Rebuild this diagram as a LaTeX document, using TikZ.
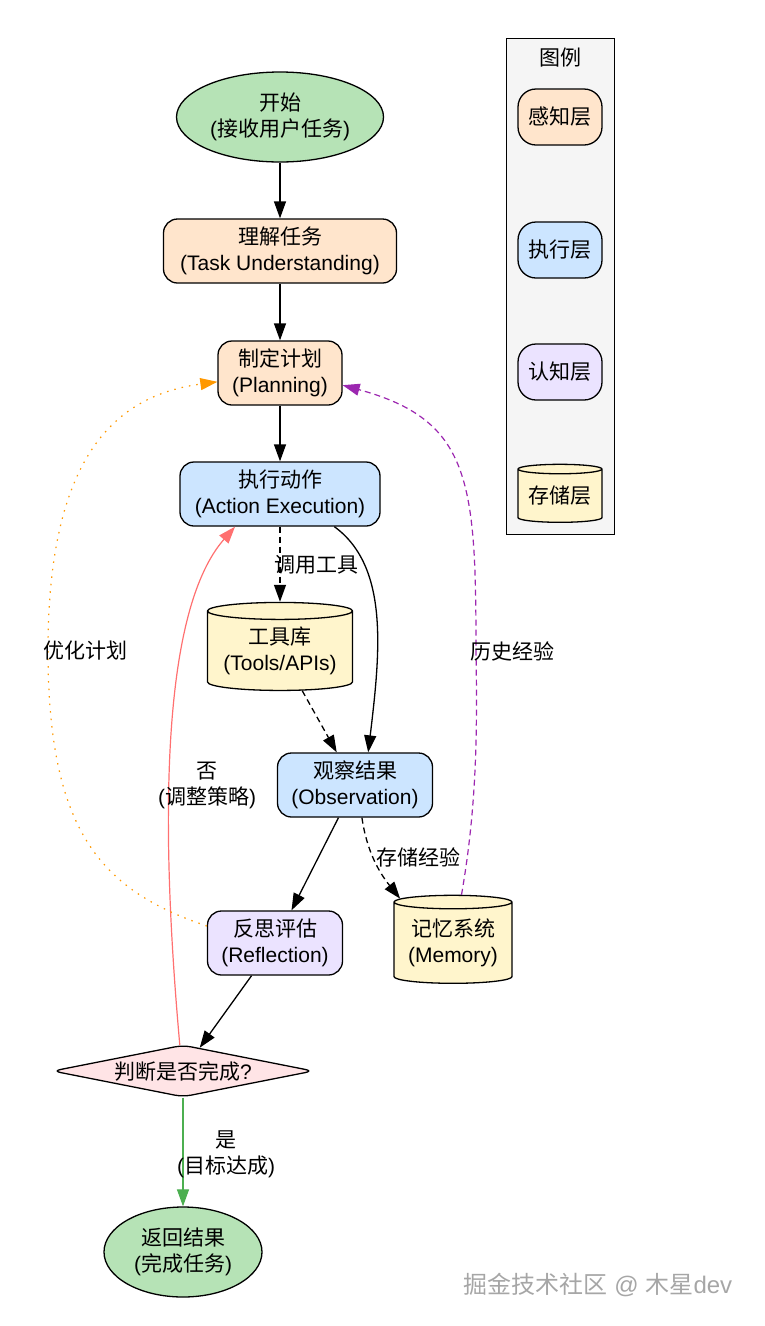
\documentclass[tikz,border=0pt]{standalone}
\usepackage{fontspec}
\setmainfont{Liberation Sans}
\newfontfamily\cjk{Noto Sans CJK SC}
\usetikzlibrary{arrows.meta,shapes.geometric}

\definecolor{startgreen}{HTML}{B6E3B6}
\definecolor{perception}{HTML}{FFE5CC}
\definecolor{execution}{HTML}{CCE5FF}
\definecolor{cognition}{HTML}{EBE3FF}
\definecolor{storage}{HTML}{FFF5CC}
\definecolor{decision}{HTML}{FFE4E6}
\definecolor{legendbg}{HTML}{F5F5F5}
\definecolor{retryred}{HTML}{FF7070}
\definecolor{refineorange}{HTML}{FF9800}
\definecolor{historypurple}{HTML}{9C27B0}
\definecolor{donegreen}{HTML}{4CAF50}

\begin{document}
\begin{tikzpicture}[x=1pt, y=-1pt,
		every node/.style={font=\fontsize{21}{26}\selectfont, align=center, inner sep=0pt},
		terminal/.style={ellipse, draw, line width=1.3pt, fill=startgreen},
		layer/.style={rectangle, rounded corners=14pt, draw, line width=1.3pt},
		store/.style={cylinder, shape border rotate=90, aspect=0.15, draw, line width=1.3pt, fill=storage},
		flow/.style={line width=1.3pt, -{Triangle[length=17pt,width=12pt]}},
		dashline/.style={dash pattern=on 6pt off 4pt}]

				\useasboundingbox (0,0) rectangle (764,1326);

				\node[draw, line width=1pt, fill=legendbg, minimum width=108, minimum height=496] (legend) at (560.5,286) {};
				\node (legendtitle) at (560,58) {\cjk 图例};
				\node[layer, fill=perception, rounded corners=18pt, minimum width=84, minimum height=56] (keyperception) at (560,117) {\cjk 感知层};
				\node[layer, fill=execution, rounded corners=18pt, minimum width=84, minimum height=56] (keyexecution) at (560,250) {\cjk 执行层};
				\node[layer, fill=cognition, rounded corners=18pt, minimum width=84, minimum height=56] (keycognition) at (560,372) {\cjk 认知层};
				\node[store, minimum width=84, minimum height=58] (keystorage) at (560,496) {\cjk 存储层};

				\node[terminal, minimum width=207, minimum height=90] (start) at (280,117) {{\cjk 开始}\\({\cjk 接收用户任务})};
				\node[layer, fill=perception, minimum width=233, minimum height=64] (understand) at (280,251) {{\cjk 理解任务}\\(Task Understanding)};
				\node[layer, fill=perception, minimum width=124, minimum height=64] (plan) at (280,373) {{\cjk 制定计划}\\(Planning)};
				\node[layer, fill=execution, minimum width=200, minimum height=64] (act) at (280,494) {{\cjk 执行动作}\\(Action Execution)};
				\node[store, minimum width=145, minimum height=88] (tools) at (280,651) {{\cjk 工具库}\\(Tools/APIs)};
				\node[layer, fill=execution, minimum width=155, minimum height=64] (observe) at (355,785) {{\cjk 观察结果}\\(Observation)};
				\node[layer, fill=cognition, minimum width=135, minimum height=64] (reflect) at (275,943) {{\cjk 反思评估}\\(Reflection)};
				\node[store, minimum width=118, minimum height=88] (memory) at (453,943) {{\cjk 记忆系统}\\(Memory)};
				\node[diamond, aspect=5, draw, line width=1.3pt, fill=decision, rounded corners=8pt, minimum width=261, minimum height=52] (check) at (183,1071) {{\cjk 判断是否完成}?};
				\node[terminal, minimum width=158, minimum height=90] (finish) at (183,1252) {{\cjk 返回结果}\\({\cjk 完成任务})};

				\draw[flow] (start) -- (understand);
				\draw[flow] (understand) -- (plan);
				\draw[flow] (plan) -- (act);
				\draw[flow, dashline] (act) -- (tools);
				\node (calltools) at (316,565) {\cjk 调用工具};
				\draw[flow] (act.-31) .. controls +(55,40) and +(12,-100) .. (observe.68);
				\draw[flow, dashline] (tools) -- (observe);
				\draw[flow] (observe) -- (reflect);
				\draw[flow, dashline] (observe.-78) .. controls +(5,35) and +(-20,-25) .. (memory.140);
				\node (storeexp) at (418,857) {\cjk 存储经验};
				\draw[flow] (reflect) -- (check);

				\draw[flow, retryred, line width=1.2pt] (check.97) .. controls +(-22,-245) and +(-70,80) .. (act.-144);
				\node (retry) at (207,785) {{\cjk 否}\\({\cjk 调整策略})};
				\draw[flow, refineorange, line width=1.2pt, dash pattern=on 1.5pt off 6pt] (reflect.166) .. controls (100,890) and (48,830) .. (48,650) .. controls (48,450) and (120,395) .. (plan.188);
				\node (refine) at (85,651) {\cjk 优化计划};
				\draw[flow, historypurple, line width=1.2pt, dashline] (memory.80) .. controls (478,800) and (477,720) .. (476,650) .. controls (476,480) and (470,420) .. (plan.-11);
				\node (history) at (512,651) {\cjk 历史经验};
				\draw[flow, donegreen, line width=1.2pt] (check) -- (finish);
				\node (done) at (226,1154) {{\cjk 是}\\({\cjk 目标达成})};

				\node[text=gray!70, font=\fontsize{24}{28}\selectfont] (watermark) at (598,1285) {{\cjk 掘金技术社区} @ {\cjk 木星}dev};
			\end{tikzpicture}
\end{document}
